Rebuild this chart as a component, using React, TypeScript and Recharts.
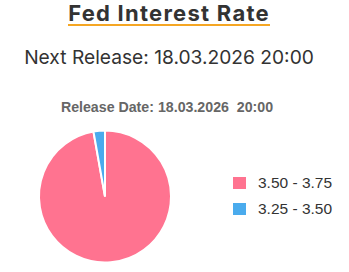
import { Cell, Legend, Pie, PieChart } from 'recharts'

const rangeLabels = ['3.50 - 3.75', '3.25 - 3.50']
const probabilities = [97.2, 2.8]
const sliceColors = ['#ff7390', '#4aabed']

const chartData = rangeLabels.map((name, index) => ({ name, value: probabilities[index] ?? 0 }))

const renderLegend = () => (
  <div style={{ fontFamily: 'Liberation Sans, Arial, sans-serif', fontSize: 15.5, color: '#333' }}>
    {chartData.map((entry, index) => (
      <div key={entry.name} style={{ display: 'flex', alignItems: 'center', height: 26 }}>
        <span
          style={{
            display: 'inline-block',
            width: 13,
            height: 12,
            background: sliceColors[index],
            marginRight: 12,
          }}
        />
        <span>{entry.name}</span>
      </div>
    ))}
  </div>
)

const App = () => {
  return (
    <div
      style={{
        position: 'absolute',
        left: 0,
        top: 0,
        width: 349,
        height: 272,
        background: '#fff',
        overflow: 'hidden',
      }}
    >
      <div
        style={{
          position: 'absolute',
          top: 0,
          left: 0,
          width: 338,
          textAlign: 'center',
          fontFamily: 'Inter, sans-serif',
        }}
      >
        <span
          style={{
            display: 'inline-block',
            marginTop: 2,
            fontSize: 22,
            fontWeight: 700,
            letterSpacing: 1.25,
            color: '#333',
            borderBottom: '2.5px solid #f5a623',
            lineHeight: '22px',
          }}
        >
          Fed Interest Rate
        </span>
      </div>
      <div
        style={{
          position: 'absolute',
          top: 44,
          left: 0,
          width: 338,
          textAlign: 'center',
          fontFamily: 'Inter, sans-serif',
          fontSize: 19.2,
          color: '#333',
          lineHeight: '26px',
        }}
      >
        Next Release: 18.03.2026 20:00
      </div>
      <div
        style={{
          position: 'absolute',
          top: 99,
          left: 0,
          width: 334,
          textAlign: 'center',
          fontFamily: 'Liberation Sans, Arial, sans-serif',
          fontSize: 14.2,
          fontWeight: 700,
          color: '#666',
          whiteSpace: 'pre',
        }}
      >
        {'Release Date: 18.03.2026  20:00'}
      </div>
      <div style={{ position: 'absolute', top: 0, left: 0 }}>
        <PieChart width={349} height={272} margin={{ top: 0, right: 0, bottom: 0, left: 0 }}>
          <Pie
            data={chartData}
            dataKey="value"
            nameKey="name"
            cx={105}
            cy={196.5}
            outerRadius={66}
            startAngle={90}
            endAngle={-270}
            stroke="#fff"
            strokeWidth={2}
            isAnimationActive={false}
          >
            {chartData.map((entry, index) => (
              <Cell key={entry.name} fill={sliceColors[index]} />
            ))}
          </Pie>
          <Legend
            layout="vertical"
            content={renderLegend}
            wrapperStyle={{ position: 'absolute', left: 233, top: 170, width: 115 }}
          />
        </PieChart>
      </div>
    </div>
  )
}

export default App
